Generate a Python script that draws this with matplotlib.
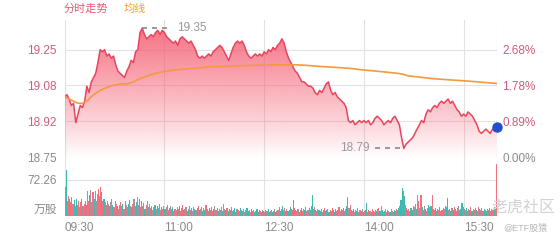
import numpy as np
import matplotlib
matplotlib.use('Agg')
import matplotlib.pyplot as plt
from matplotlib.patches import Polygon

plt.rcParams['font.family'] = ['Liberation Sans', 'Noto Sans CJK SC', 'DejaVu Sans']

# intraday price, one value every 2 minutes from 09:30
price_step = 2
price = [
    19.03, 19.04, 19.02, 18.99, 19.00, 18.91, 18.95, 18.99, 18.98, 19.01,
    19.08, 19.05, 19.10, 19.12, 19.14, 19.19, 19.25, 19.24, 19.25, 19.22,
    19.23, 19.21, 19.22, 19.18, 19.15, 19.14, 19.13, 19.12, 19.15, 19.17,
    19.20, 19.19, 19.24, 19.25, 19.33, 19.35, 19.32, 19.30, 19.31, 19.32,
    19.31, 19.33, 19.34, 19.32, 19.34, 19.33, 19.31, 19.30, 19.29, 19.28,
    19.29, 19.27, 19.30, 19.31, 19.30, 19.29, 19.28, 19.29, 19.27, 19.25,
    19.22, 19.21, 19.22, 19.21, 19.22, 19.23, 19.22, 19.24, 19.25, 19.26,
    19.27, 19.26, 19.24, 19.22, 19.20, 19.23, 19.26, 19.28, 19.29, 19.28,
    19.29, 19.27, 19.24, 19.22, 19.21, 19.22, 19.23, 19.22, 19.23, 19.22,
    19.24, 19.23, 19.25, 19.24, 19.26, 19.25, 19.27, 19.28, 19.30, 19.28,
    19.24, 19.21, 19.19, 19.17, 19.15, 19.14, 19.12, 19.10, 19.10, 19.09,
    19.08, 19.08, 19.07, 19.05, 19.04, 19.06, 19.05, 19.07, 19.09, 19.10,
    19.06, 19.04, 19.05, 19.03, 19.02, 19.01, 19.00, 18.98, 18.92, 18.91,
    18.92, 18.90, 18.91, 18.92, 18.91, 18.92, 18.91, 18.92, 18.90, 18.91,
    18.93, 18.94, 18.93, 18.92, 18.90, 18.91, 18.92, 18.91, 18.93, 18.94,
    18.92, 18.90, 18.84, 18.79, 18.81, 18.82, 18.83, 18.84, 18.86, 18.88,
    18.90, 18.92, 18.91, 18.95, 18.97, 18.96, 18.98, 18.99, 18.98, 19.00,
    19.01, 19.00, 19.01, 19.02, 19.00, 19.01, 18.99, 18.97, 18.96, 18.94,
    18.95, 18.94, 18.96, 18.95, 18.94, 18.92, 18.90, 18.87, 18.86, 18.87,
    18.88, 18.87, 18.86, 18.88, 18.87, 18.89,
]

# average price line
avg_min = [0, 4, 8, 12, 16, 20, 26, 32, 41, 50, 56, 62, 68, 76, 86, 98, 110,
           120, 131, 145, 160, 180, 203, 215, 230, 257, 270, 285, 300, 305,
           310, 320, 332, 345, 360, 375, 390]
avg_val = [19.03, 19.02, 19.01, 19.00, 19.00, 19.01, 19.04, 19.06, 19.08,
           19.09, 19.09, 19.10, 19.115, 19.13, 19.145, 19.155, 19.16, 19.165,
           19.17, 19.172, 19.175, 19.178, 19.18, 19.178, 19.172, 19.163,
           19.155, 19.148, 19.14, 19.136, 19.128, 19.122, 19.115, 19.11,
           19.105, 19.099, 19.092]

# volume per minute (10k shares)
volume = [
    58, 92, 30, 40, 35, 28, 38, 25, 32, 20,
    35, 22, 30, 18, 28, 34, 20, 25, 30, 22,
    50, 30, 42, 52, 28, 48, 35, 50, 30, 45,
    55, 40, 58, 48, 30, 35, 28, 22, 30, 25,
    20, 28, 35, 22, 18, 30, 25, 20, 15, 22,
    28, 20, 25, 15, 30, 22, 18, 25, 32, 20,
    18, 25, 34, 20, 28, 38, 22, 35, 18, 30,
    20, 26, 15, 22, 30, 18, 24, 16, 20, 12,
    18, 22, 14, 20, 16, 24, 12, 18, 15, 20,
    14, 18, 22, 12, 16, 20, 14, 18, 10, 15,
    12, 18, 14, 20, 10, 16, 22, 12, 15, 18,
    10, 14, 20, 12, 16, 10, 18, 14, 12, 16,
    20, 12, 14, 18, 10, 16, 12, 22, 14, 10,
    16, 12, 18, 10, 14, 20, 12, 16, 10, 14,
    12, 18, 10, 24, 14, 12, 16, 10, 14, 12,
    18, 10, 12, 16, 8, 14, 12, 10, 16, 12,
    10, 14, 8, 12, 16, 10, 12, 8, 14, 10,
    12, 8, 10, 14, 8, 12, 10, 8, 12, 10,
    8, 12, 10, 14, 8, 10, 12, 8, 10, 14,
    8, 10, 12, 18, 10, 14, 20, 12, 16, 10,
    14, 10, 12, 18, 14, 12, 32, 16, 12, 10,
    14, 8, 12, 16, 10, 14, 12, 18, 10, 12,
    16, 12, 20, 42, 14, 18, 12, 10, 14, 12,
    10, 14, 8, 12, 16, 10, 12, 14, 8, 12,
    10, 16, 12, 8, 14, 10, 12, 18, 10, 14,
    12, 16, 10, 14, 20, 38, 16, 22, 12, 10,
    14, 8, 12, 10, 16, 8, 12, 10, 14, 8,
    10, 12, 26, 8, 12, 10, 8, 14, 10, 8,
    12, 10, 14, 16, 10, 20, 12, 8, 10, 14,
    8, 12, 10, 8, 14, 10, 8, 12, 10, 14,
    12, 16, 20, 32, 56, 50, 40, 22, 16, 12,
    14, 10, 16, 12, 20, 18, 24, 14, 42, 30,
    16, 42, 18, 12, 20, 14, 10, 16, 22, 18,
    20, 42, 14, 12, 16, 10, 14, 12, 18, 10,
    12, 16, 14, 20, 18, 36, 12, 14, 10, 16,
    12, 18, 14, 10, 16, 20, 12, 14, 26, 18,
    14, 12, 16, 10, 14, 12, 18, 10, 14, 12,
    16, 12, 10, 18, 14, 12, 16, 10, 14, 12,
    10, 14, 12, 16, 10, 14, 12, 18, 14, 104,
]

# bar colour per minute: r = up, g = down, n = flat
vol_dir = ''.join([
    'rgnrgrnrgn', 'grrnrgnrgr', 'nrgnnrgrnr', 'rrrgrgnrgn', 'gnrgrnrgnr',
    'rngrgnrgrn', 'grnrgrngrn', 'nrgrngrrgn', 'rgnrgnrgrn', 'gnrrgnrgnr',
    'rgngrnrgrn', 'ngrrgnrgng', 'rgnrgngrrn', 'grnrgnrrgn', 'nrgrngrgnr',
    'rgnggnrrgn', 'grnrggnrgr', 'ngrgnrrgng', 'rgngrnrggn', 'gnrrgngrng',
    'rgngnrgrnr', 'ngrgrnggrn', 'rgngrngrrg', 'grngrrgngr', 'nrggnrgrng',
    'rgnrggnrgr', 'gnrgrnrgng', 'rggnrngrgr', 'ngrrgngrgn', 'rgngrnrggr',
    'ngrggggnrg', 'rnggrnrgrr', 'nrgrngrrgn', 'grnrggnrgr', 'rgnrggnrgn',
    'grnrgnrggr', 'nrgrngrgnr', 'rgnrgnrrgn', 'grngrnrgnr',
])

prev_close = 18.75
price_ticks = [18.75, 18.9167, 19.0833, 19.25]
price_labels = ['18.75', '18.92', '19.08', '19.25']
pct_labels = ['0.00%', '0.89%', '1.78%', '2.68%']
time_ticks = [0, 90, 180, 270, 360, 390]
time_labels = ['09:30', '11:00', '12:30', '14:00', '15:30', '']
vol_tick = 72.26

RED = '#e8455d'
ORANGE = '#f39a3e'
GRID = '#e2e2e2'
UPTXT = '#c9607a'
GREYTXT = '#8a8a8a'
bar_colors = {'r': '#f2717f', 'g': '#3fbab0', 'n': '#a8909c'}

fig = plt.figure(figsize=(5.6, 2.4), dpi=100)
ax = fig.add_axes([64.7 / 560, 1 - 157 / 240, 432.2 / 560, 137 / 240])
axv = fig.add_axes([64.7 / 560, 1 - 216 / 240, 432.2 / 560, 59 / 240])

pm = np.arange(len(price)) * price_step
p = np.array(price)
ytop = 19.388

for a in (ax, axv):
    a.set_xlim(0, 390)
    for s in a.spines.values():
        s.set_visible(False)
    a.set_xticks(time_ticks)
    a.tick_params(length=0)
    a.grid(True, color=GRID, lw=0.8)
    a.set_axisbelow(True)

# price panel
ax.set_ylim(prev_close, ytop)
ax.set_yticks(price_ticks, price_labels)
ax.set_xticklabels([])
ax.tick_params(axis='y', labelsize=8.5, pad=6)
for lbl, v in zip(ax.get_yticklabels(), price_ticks):
    lbl.set_color(GREYTXT if v == prev_close else UPTXT)

# gradient fill under the price line
grad = np.zeros((256, 1, 4))
grad[:, 0, :3] = matplotlib.colors.to_rgb('#f5576c')
grad[:, 0, 3] = np.linspace(0.0, 1.0, 256) ** 0.9 * 0.88
img = ax.imshow(grad, extent=[0, 390, prev_close, ytop], aspect='auto',
                origin='lower', zorder=1)
verts = np.vstack([[pm[0], prev_close], np.column_stack([pm, p]),
                   [pm[-1], prev_close]])
clip = Polygon(verts, closed=True, facecolor='none', edgecolor='none')
ax.add_patch(clip)
img.set_clip_path(clip)

ax.plot(pm, p, color=RED, lw=1.1, zorder=3)
ax.plot(avg_min, avg_val, color=ORANGE, lw=1.2, zorder=4)

# high / low markers
imax = int(np.argmax(p))
imin = int(np.argmin(p))
ax.plot([pm[imax], pm[imax] + 26], [p[imax]] * 2, color='#888888', lw=1.2,
        dashes=(3, 3), zorder=5)
ax.text(pm[imax] + 31, p[imax], f'{p[imax]:.2f}', color='#999999',
        fontsize=8.5, va='center', ha='left')
ax.plot([pm[imin] - 26, pm[imin]], [p[imin]] * 2, color='#888888', lw=1.2,
        dashes=(3, 3), zorder=5)
ax.text(pm[imin] - 31, p[imin], f'{p[imin]:.2f}', color='#999999',
        fontsize=8.5, va='center', ha='right')

ax.plot([pm[-1]], [p[-1]], 'o', color='#1f4fd0', ms=6.5, clip_on=False,
        zorder=6)

axr = ax.twinx()
axr.set_ylim(ax.get_ylim())
axr.set_yticks(price_ticks, pct_labels)
axr.tick_params(length=0, labelsize=8.5, pad=4)
for s in axr.spines.values():
    s.set_visible(False)
for lbl, v in zip(axr.get_yticklabels(), price_ticks):
    lbl.set_color(GREYTXT if v == prev_close else UPTXT)

# volume panel
vm = np.arange(len(volume))
axv.bar(vm + 0.5, volume, width=1.0,
        color=[bar_colors[c] for c in vol_dir], linewidth=0, zorder=2)
axv.set_ylim(0, 118.4)
axv.set_yticks([vol_tick], [f'{vol_tick:.2f}'])
axv.tick_params(axis='y', labelsize=8.5, pad=6, labelcolor=GREYTXT)
axv.set_xticklabels(time_labels)
axv.tick_params(axis='x', labelsize=8.5, pad=4, labelcolor=GREYTXT)
for lbl in axv.get_xticklabels():
    lbl.set_horizontalalignment('left')
axv.text(-0.018, 0.0, '万股', transform=axv.transAxes, ha='right',
         va='bottom', fontsize=8.5, color=GREYTXT)

# header
fig.text(64 / 560, 1 - 9 / 240, '分时走势', color='#e35a72', fontsize=8,
         va='center', ha='left')
fig.text(124 / 560, 1 - 9 / 240, '均线', color='#f0a030', fontsize=8,
         va='center', ha='left')

# watermark
fig.text(492 / 560, 1 - 207 / 240, '老虎社区', color='#d2d2d2', fontsize=11.5,
         va='center', ha='left')
fig.text(503 / 560, 1 - 228 / 240, '@ETF股猿', color='#b8b8b8', fontsize=6.5,
         va='center', ha='left')

fig.savefig('out.png', dpi=100)
